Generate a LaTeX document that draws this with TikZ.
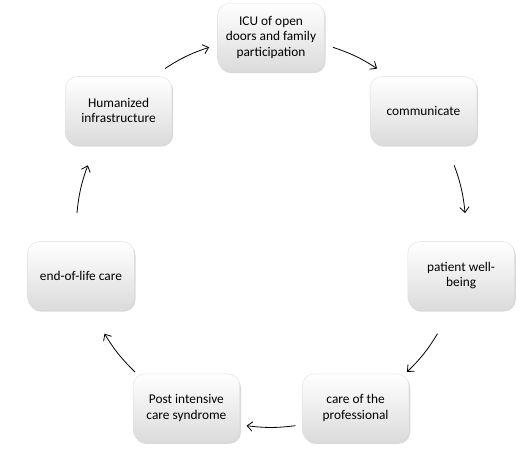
\documentclass[tikz,border=0pt]{standalone}
\usepackage{fontspec}
\setmainfont{Carlito}
\usetikzlibrary{arrows.meta,shadows}
\tikzset{
  cyclebox/.style={rounded corners=9pt, minimum width=80pt, minimum height=51pt, align=center,
    top color=white, middle color=white, bottom color=gray!28, draw=gray!25, line width=0.3pt,
    drop shadow={opacity=0.3, shadow xshift=1pt, shadow yshift=-1.5pt},
    font=\fontsize{10}{11.5}\selectfont},
  cyclearrow/.style={-{Straight Barb[length=4pt,width=7pt]}, line width=0.6pt}
}
\begin{document}
\begin{tikzpicture}[x=0.75pt,y=0.75pt]
  \useasboundingbox (0,0) rectangle (530,455);
  \coordinate (cen) at (271,222.8); %円の中心
  \foreach \txt [count=\i, evaluate=\i as \ang using 90-(\i-1)*360/7] in
    {{ICU of open\\doors and family\\participation}, communicate, {patient well-\\being},
     {care of the\\professional}, {Post intensive\\care syndrome}, end-of-life care,
     {Humanized\\infrastructure}}
  {
    \node[cyclebox] (box\i) at ([shift={(\ang:195)}]cen) {\txt}; %箱
    \coordinate (from\i) at ([shift={(\ang-18.5:195)}]cen);
    \coordinate (to\i) at ([shift={(\ang-51.43+18.5:195)}]cen);
    \draw[cyclearrow] (from\i) to[bend left=7.2] (to\i); %矢印
  }
\end{tikzpicture}
\end{document}
